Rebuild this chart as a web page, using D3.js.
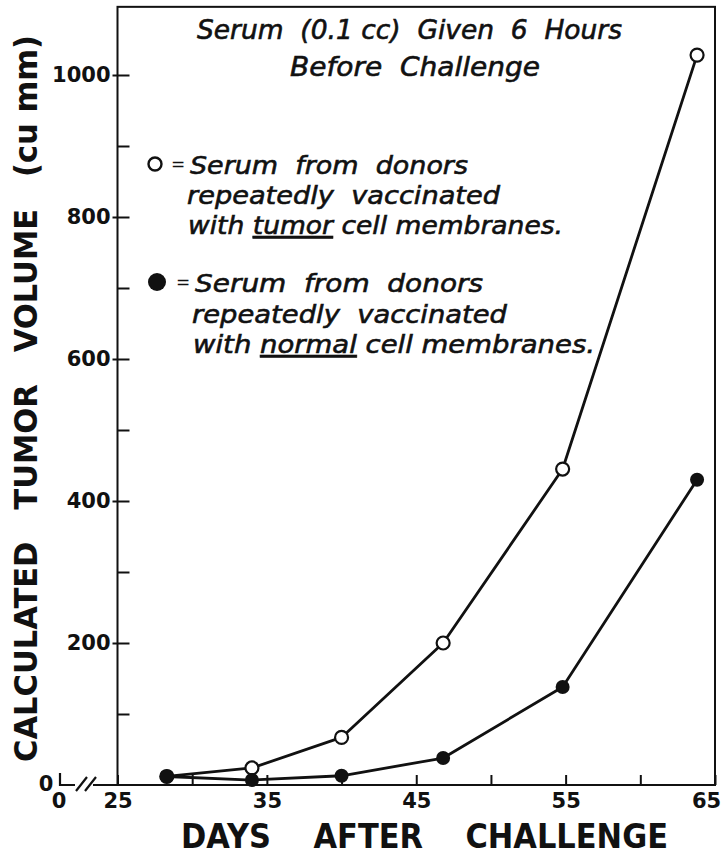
<!DOCTYPE html>
<html>
<head>
<meta charset="utf-8">
<script src="https://cdn.jsdelivr.net/npm/d3@7"></script>
<style>
  body { margin: 0; background: #fff; }
  text { font-family: "DejaVu Sans", sans-serif; fill: #111; }
  .lettering { font-style: italic; white-space: pre; stroke: #111; stroke-width: 0.6px; }
  .heavy { font-weight: bold; white-space: pre; }
</style>
</head>
<body>
<div id="chart"></div>
<script>
// values
const days = [28.3, 34, 40, 46.8, 54.8, 63.8];
const tumorSerum = [12, 24, 67, 200, 445, 1028];
const normalSerum = [12, 7, 13, 38, 138, 430];

const xTickLabels = [25, 35, 45, 55, 65];
const xMinorTicks = [30, 40, 50, 60];
const yTickLabels = [200, 400, 600, 800, 1000];
const yMinorTicks = [100, 300, 500, 700, 900];

const width = 723, height = 855;
const ink = "#111";

const svg = d3.select('#chart').append('svg')
    .attr("width", width)
    .attr("height", height);

const x = d3.scaleLinear().domain([25, 65]).range([117.5, 715]);
const y = d3.scaleLinear().domain([0, 1000]).range([785, 75]);
const yTop = 1096;

// frame
svg.append("rect")
    .attr("x", x(25))
    .attr("y", y(yTop))
    .attr("width", x(65) - x(25))
    .attr("height", y(0) - y(yTop))
    .attr("fill", "none")
    .attr("stroke", ink)
    .attr("stroke-width", 2);

// broken axis at the origin
svg.append("path")
    .attr("d", "M60,773 L60,785 L75,785 M76,791 L87,777 M85,791 L96,777 M93,785 L" + x(25) + ",785")
    .attr("fill", "none")
    .attr("stroke", ink)
    .attr("stroke-width", 2.2);

// x axis
const xAxis = svg.append("g")
    .attr("transform", "translate(0," + y(0) + ")")
    .call(d3.axisBottom(x).tickValues(xTickLabels).tickSizeInner(-10).tickSizeOuter(0).tickPadding(8));
svg.append("g")
    .attr("transform", "translate(0," + y(0) + ")")
    .call(d3.axisBottom(x).tickValues(xMinorTicks).tickSizeInner(-10).tickSizeOuter(0).tickFormat(""));

// y axis
const yAxis = svg.append("g")
    .attr("transform", "translate(" + x(25) + ",0)")
    .call(d3.axisLeft(y).tickValues(yTickLabels).tickFormat(d3.format("d"))
        .tickSizeInner(5).tickSizeOuter(0).tickPadding(2));
yAxis.selectAll(".tick line").attr("x1", 12);
svg.append("g")
    .attr("transform", "translate(" + x(25) + ",0)")
    .call(d3.axisLeft(y).tickValues(yMinorTicks).tickSizeInner(-12).tickSizeOuter(0).tickFormat(""));

svg.selectAll(".domain").remove();
svg.selectAll(".tick line").attr("stroke", ink).attr("stroke-width", 2);
svg.selectAll(".tick text")
    .attr("fill", ink)
    .style("font-family", '"DejaVu Sans", sans-serif')
    .style("font-size", "21px")
    .style("font-weight", "bold");
// last day label sits inside the page edge
xAxis.selectAll(".tick text").filter(d => d === 65).attr("dx", -9);

// the two zeros at the break
svg.append("text").attr("class", "heavy")
    .attr("x", 46).attr("y", y(0)).attr("dy", "0.3em")
    .attr("text-anchor", "middle").attr("font-size", 21)
    .text("0");
svg.append("text").attr("class", "heavy")
    .attr("x", 59).attr("y", y(0) + 23)
    .attr("text-anchor", "middle").attr("font-size", 21)
    .text("0");

// curves
const line = d3.line()
    .x((d, i) => x(days[i]))
    .y(d => y(d));

[tumorSerum, normalSerum].forEach(series => {
    svg.append("path")
        .datum(series)
        .attr("d", line)
        .attr("fill", "none")
        .attr("stroke", ink)
        .attr("stroke-width", 2.8)
        .attr("stroke-linejoin", "round");
});

svg.selectAll(".open")
    .data(tumorSerum)
    .enter()
    .append("circle")
    .attr("class", "open")
    .attr("cx", (d, i) => x(days[i]))
    .attr("cy", d => y(d))
    .attr("r", 6.5)
    .attr("fill", "#fff")
    .attr("stroke", ink)
    .attr("stroke-width", 2.2);

svg.selectAll(".filled")
    .data(normalSerum)
    .enter()
    .append("circle")
    .attr("class", "filled")
    .attr("cx", (d, i) => x(days[i]))
    .attr("cy", d => y(d))
    .attr("r", 7)
    .attr("fill", ink);

// hand lettering
function lettering(xPos, yPos, len, parts, size) {
    const t = svg.append("text")
        .attr("class", "lettering")
        .attr("x", xPos)
        .attr("y", yPos)
        .attr("font-size", size)
        .attr("textLength", len)
        .attr("lengthAdjust", "spacingAndGlyphs");
    parts.forEach(p => {
        const s = t.append("tspan").text(p.t || p);
        if (p.u) s.style("text-decoration", "underline");
    });
}

lettering(197, 39, 425, ["Serum  (0.1 cc)  Given  6  Hours"], 26);
lettering(290, 76, 250, ["Before  Challenge"], 26);

// legend
svg.append("circle").attr("cx", 155).attr("cy", 164).attr("r", 6.5)
    .attr("fill", "#fff").attr("stroke", ink).attr("stroke-width", 2.4);
svg.append("text").attr("x", 171).attr("y", 170).attr("font-size", 17).text("=");
lettering(190, 174, 278, ["Serum  from  donors"], 25);
lettering(187, 204, 313, ["repeatedly  vaccinated"], 25);
lettering(188, 234, 375, ["with ", {t: "tumor", u: 1}, " cell membranes."], 25);

svg.append("circle").attr("cx", 157).attr("cy", 282).attr("r", 9).attr("fill", ink);
svg.append("text").attr("x", 176).attr("y", 288).attr("font-size", 17).text("=");
lettering(195, 292, 288, ["Serum  from  donors"], 25);
lettering(192, 323, 315, ["repeatedly  vaccinated"], 25);
lettering(193, 353, 402, ["with ", {t: "normal", u: 1}, " cell membranes."], 25);

// axis titles
svg.append("text")
    .attr("class", "heavy")
    .attr("x", 181)
    .attr("y", 848)
    .attr("font-size", 33)
    .attr("textLength", 487)
    .attr("lengthAdjust", "spacingAndGlyphs")
    .text("DAYS    AFTER    CHALLENGE");

svg.append("text")
    .attr("class", "heavy")
    .attr("transform", "translate(37,398.5) rotate(-90)")
    .attr("text-anchor", "middle")
    .attr("font-size", 32)
    .attr("textLength", 727)
    .attr("lengthAdjust", "spacingAndGlyphs")
    .text("CALCULATED   TUMOR   VOLUME   (cu mm)");
</script>
</body>
</html>
